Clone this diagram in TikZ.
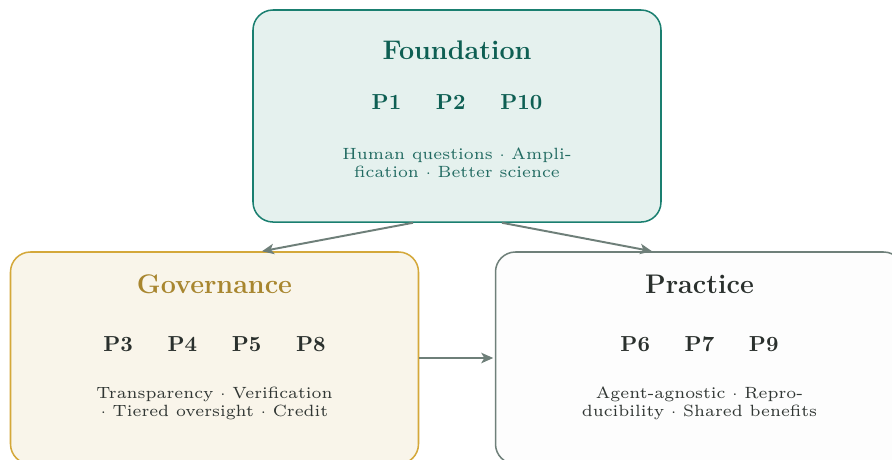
\documentclass[tikz,border=0pt]{standalone}
\usepackage{fontspec}
\newfontfamily\bodyfont{lmroman6-regular.otf}
\usetikzlibrary{arrows.meta,calc}
\definecolor{fFill}{HTML}{E5F1EE}
\definecolor{fLine}{HTML}{1A7F70}
\definecolor{fText}{HTML}{0E5F53}
\definecolor{fBody}{HTML}{226B62}
\definecolor{gFill}{HTML}{F9F5EA}
\definecolor{gLine}{HTML}{D4A83A}
\definecolor{gText}{HTML}{A8862F}
\definecolor{pFill}{HTML}{FDFDFD}
\definecolor{pLine}{HTML}{6F807A}
\definecolor{darkText}{HTML}{2A302D}
\definecolor{bodyText}{HTML}{303633}
\definecolor{arrowCol}{HTML}{6E7F79}
\tikzset{
  panel/.style={draw, line width=0.7pt, rounded corners=9.2pt, minimum width=188pt, minimum height=97.7pt, inner sep=0pt},
  ttl/.style={font=\fontsize{12.4}{14}\selectfont\bfseries, inner sep=0pt},
  prow/.style={font=\fontsize{10}{12}\selectfont\bfseries, inner sep=0pt},
  bodytxt/.style={font=\bodyfont\fontsize{7.5}{8.3}\selectfont, align=center, inner sep=0pt},
  conn/.style={draw=arrowCol, line width=0.9pt, -{Stealth[length=5.5pt,width=4.8pt,inset=1.4pt]}}
}
\begin{document}
\begin{tikzpicture}[x=0.4608pt,y=-0.4608pt]
\useasboundingbox (0,0) rectangle (892,459);
% boxes
\node[panel, draw=fLine, fill=fFill] (F) at (457,116) {};
\node[panel, draw=gLine, fill=gFill] (G) at (214.5,358) {};
\node[panel, draw=pLine, fill=pFill] (P) at (699.5,358) {};
% Foundation
\node[ttl, text=fText] (Ft) at (457,50) {Foundation};
\node[prow, text=fText] (Fp) at (457,102) {P1\hspace{1.6em}P2\hspace{1.6em}P10};
\node[bodytxt, text=fBody] (Fb) at (457,163) {Human questions $\cdot$ Ampli-\\fication $\cdot$ Better science};
% Governance
\node[ttl, text=gText] (Gt) at (214.5,284) {Governance};
\node[prow, text=darkText] (Gp) at (214.5,344) {P3\hspace{1.6em}P4\hspace{1.6em}P5\hspace{1.6em}P8};
\node[bodytxt, text=bodyText] (Gb) at (214.5,403) {Transparency $\cdot$ Verification\\$\cdot$ Tiered oversight $\cdot$ Credit};
% Practice
\node[ttl, text=darkText] (Pt) at (699.5,284) {Practice};
\node[prow, text=darkText] (Pp) at (699.5,344) {P6\hspace{1.6em}P7\hspace{1.6em}P9};
\node[bodytxt, text=bodyText] (Pb) at (699.5,403) {Agent-agnostic $\cdot$ Repro-\\ducibility $\cdot$ Shared benefits};
% connectors
\draw[conn] ($(F.south)+(-44,0)$) -- ($(G.north)+(47.5,0)$);
\draw[conn] ($(F.south)+(45,0)$) -- ($(P.north)+(-47.5,0)$);
\draw[conn] (G.east) -- ($(P.west)+(-1.5,0)$);
\end{tikzpicture}
\end{document}
